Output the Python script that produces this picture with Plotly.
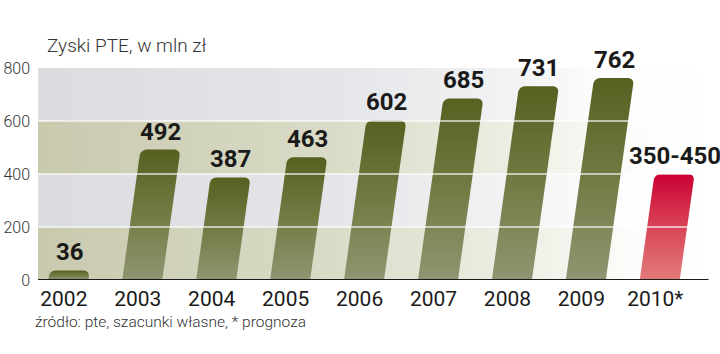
import math
import plotly.graph_objects as go

# ---- data ----
years = ["2002", "2003", "2004", "2005", "2006", "2007", "2008", "2009", "2010*"]
profits = [36, 492, 387, 463, 602, 685, 731, 762, None]
forecast_2010 = (350, 450)
value_labels = ["36", "492", "387", "463", "602", "685", "731", "762", "350-450"]
y_ticks = [0, 200, 400, 600, 800]
title_text = "Zyski PTE, w mln zł"
source_text = "źródło: pte, szacunki własne, * prognoza"

bar_values = [v if v is not None else sum(forecast_2010) / 2 for v in profits]
is_forecast = [v is None for v in profits]

# ---- layout geometry ----
W, H = 720, 354
ML, MR, MT, MB = 38, 10, 68, 74
XR = [-0.35, 8.74]
YR = [0, 800]
PW, PH = W - ML - MR, H - MT - MB
XPX = PW / (XR[1] - XR[0])   # px per category unit
YPX = PH / (YR[1] - YR[0])   # px per value unit

BAR_W = 40      # px
SKEW = 0.14     # horizontal px per vertical px
RADIUS = 6      # px
OFFSET = 0.06   # category units


def px_to_paper(px, py):
    return (px - ML) / PW, (H - MB - py) / PH


def bar_polygon(i, v):
    cx = i + OFFSET
    h = v * YPX
    w = BAR_W / 2
    r = min(RADIUS, h)
    pts = [(-w, 0), (w, 0), (w, h - r)]
    for a in range(0, 91, 15):
        t = math.radians(a)
        pts.append((w - r + r * math.cos(t), h - r + r * math.sin(t)))
    for a in range(90, 181, 15):
        t = math.radians(a)
        pts.append((-w + r + r * math.cos(t), h - r + r * math.sin(t)))
    pts.append((-w, 0))
    xs = [cx + (dx + SKEW * dy) / XPX for dx, dy in pts]
    ys = [dy / YPX for dx, dy in pts]
    top_x = cx + SKEW * h / XPX
    return xs, ys, top_x


fig = go.Figure()

# background bands with horizontal gradient
tan_scale = [[0, "#c8c9ad"], [0.45, "#dbdcc8"], [0.7, "#edede3"], [0.88, "#fcfcfa"], [1, "#ffffff"]]
gray_scale = [[0, "#dadce0"], [0.45, "#e5e6e9"], [0.7, "#f1f2f3"], [0.85, "#fdfdfd"], [1, "#ffffff"]]
for k in range(4):
    y0, y1 = y_ticks[k], y_ticks[k + 1]
    fig.add_trace(go.Scatter(
        x=[XR[0], XR[1], XR[1], XR[0], XR[0]], y=[y0, y0, y1, y1, y0],
        fill="toself", mode="none", hoverinfo="skip", showlegend=False,
        fillgradient=dict(type="horizontal", colorscale=tan_scale if k % 2 == 0 else gray_scale),
    ))

olive_scale = [[0, "#8f9571"], [0.5, "#737b44"], [1, "#566020"]]
red_scale = [[0, "#e27c7a"], [0.5, "#d84458"], [1, "#cc0033"]]

annotations = []
for i, v in enumerate(bar_values):
    xs, ys, top_x = bar_polygon(i, v)
    fig.add_trace(go.Scatter(
        x=xs, y=ys, fill="toself", mode="none", hoverinfo="skip", showlegend=False,
        fillgradient=dict(type="vertical", colorscale=red_scale if is_forecast[i] else olive_scale),
    ))
    annotations.append(dict(
        x=top_x, y=v, xref="x", yref="y", text=value_labels[i], showarrow=False,
        yanchor="bottom", yshift=2,
        font=dict(family="Roboto, sans-serif", size=24, color="#1a1a1a", weight="bold"),
    ))

tx, ty = px_to_paper(45, 45)
annotations.append(dict(
    x=tx, y=ty, xref="paper", yref="paper", xanchor="left", yanchor="middle",
    text=title_text, showarrow=False,
    font=dict(family="Roboto, sans-serif", size=19, color="#333333", weight=300),
))
sx, sy = px_to_paper(33, 322)
annotations.append(dict(
    x=sx, y=sy, xref="paper", yref="paper", xanchor="left", yanchor="middle",
    text=source_text, showarrow=False,
    font=dict(family="Roboto, sans-serif", size=15.5, color="#333333", weight=300),
))

shapes = []
for t in y_ticks[1:-1]:
    shapes.append(dict(type="line", xref="x", yref="y", x0=XR[0], x1=XR[1], y0=t, y1=t,
                       line=dict(color="rgba(255,255,255,0.8)", width=1.5), layer="above"))
shapes.append(dict(type="line", xref="x", yref="y", x0=XR[0], x1=XR[1] - 0.02, y0=0, y1=0,
                   line=dict(color="#1a1a1a", width=2), layer="above"))

fig.update_layout(
    width=W, height=H,
    margin=dict(l=ML, r=MR, t=MT, b=MB, autoexpand=False),
    paper_bgcolor="white", plot_bgcolor="white",
    annotations=annotations, shapes=shapes,
    xaxis=dict(range=XR, tickvals=list(range(len(years))), ticktext=years,
               showgrid=False, zeroline=False, showline=False, ticks="",
               ticklabelstandoff=4, automargin=False,
               tickfont=dict(family="Roboto, sans-serif", size=21, color="#1a1a1a", weight=400)),
    yaxis=dict(range=YR, tickvals=y_ticks, showgrid=False, zeroline=False, showline=False,
               ticks="", ticklabelstandoff=7, automargin=False,
               tickfont=dict(family="Roboto, sans-serif", size=16, color="#333333", weight=300)),
)

fig.write_html("out.html")
